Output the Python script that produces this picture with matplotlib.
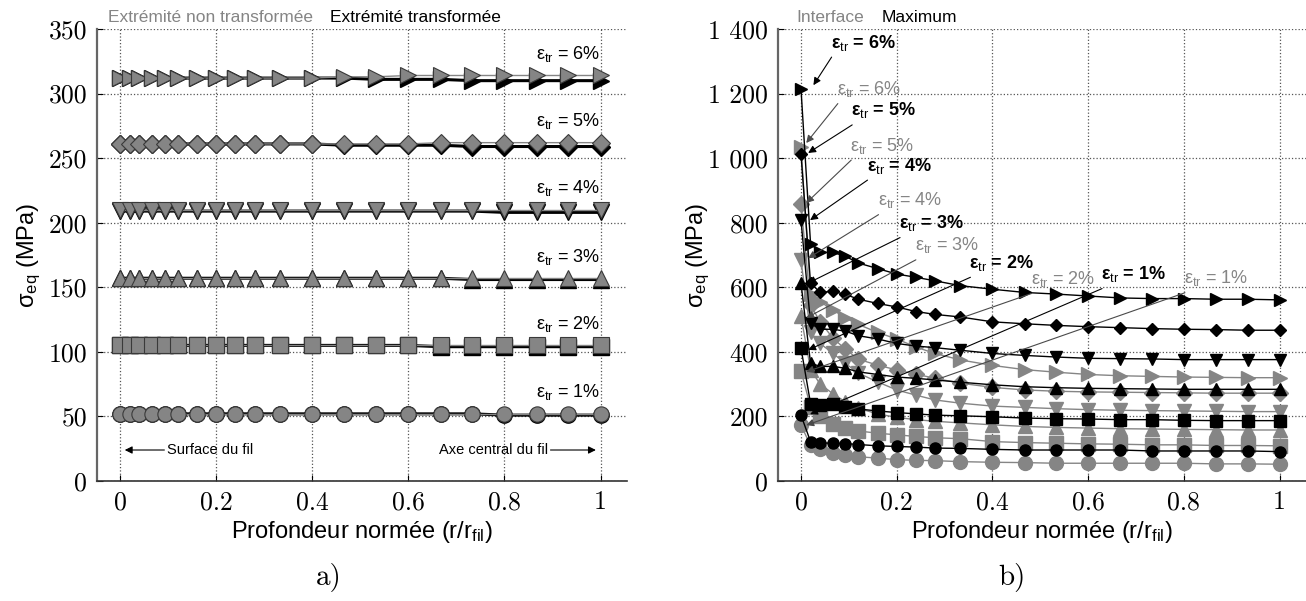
import numpy as np
import matplotlib.pyplot as plt

plt.rcParams['font.family'] = ['Liberation Sans', 'DejaVu Sans']
plt.rcParams['mathtext.fontset'] = 'custom'
plt.rcParams['mathtext.rm'] = 'Liberation Sans'
plt.rcParams['mathtext.it'] = 'Liberation Sans:italic'
plt.rcParams['mathtext.bf'] = 'Liberation Sans:bold'

# profondeur normée (r/r_fil)
depth = [0, 0.02, 0.04, 0.067, 0.093, 0.12, 0.16, 0.2, 0.24, 0.28, 0.333,
         0.4, 0.467, 0.533, 0.6, 0.667, 0.733, 0.8, 0.867, 0.933, 1.0]
levels = ['1%', '2%', '3%', '4%', '5%', '6%']
markers = ['o', 's', '^', 'v', 'D', '>']

# a) extrémité non transformée (gris) / transformée (noir)
a_gris_1 = [52, 52, 52, 52, 52, 52, 52, 52, 52, 52, 52, 52, 52, 52, 52, 52, 52, 52, 52, 52, 52]
a_gris_2 = [105, 105, 105, 105, 105, 105, 105, 105, 105, 105, 105, 105, 105, 105, 105, 105, 105, 105, 105, 105, 105]
a_gris_3 = [157, 157, 157, 157, 157, 157, 157, 157, 157, 157, 157, 157, 157, 157, 157, 157, 157, 157, 157, 157, 157]
a_gris_4 = [210, 210, 210, 210, 210, 210, 210, 210, 210, 210, 210, 210, 210, 210, 210, 210, 210, 210, 210, 210, 210]
a_gris_5 = [261, 261, 261, 261, 261, 261, 261, 261, 261, 261, 261, 261, 261, 261, 261, 262, 262, 262, 262, 262, 262]
a_gris_6 = [312, 312, 312, 312, 312, 312, 312, 312, 312, 312, 312, 312, 313, 313, 314, 314, 314, 314, 314, 314, 314]
a_noir_1 = [52, 52, 52, 52, 52, 52, 52, 52, 52, 52, 52, 52, 52, 52, 52, 52, 52, 51, 51, 51, 51]
a_noir_2 = [105, 105, 105, 105, 105, 105, 105, 105, 105, 105, 105, 105, 105, 105, 105, 104, 104, 104, 104, 104, 104]
a_noir_3 = [157, 157, 157, 157, 157, 157, 157, 157, 157, 157, 157, 157, 157, 157, 157, 157, 156, 156, 156, 156, 156]
a_noir_4 = [209, 209, 209, 209, 209, 209, 209, 209, 209, 209, 209, 209, 209, 209, 209, 209, 209, 208, 208, 208, 208]
a_noir_5 = [261, 261, 261, 261, 261, 261, 261, 261, 261, 261, 261, 261, 260, 260, 260, 260, 259, 259, 259, 259, 259]
a_noir_6 = [312, 312, 312, 312, 312, 312, 312, 312, 312, 312, 312, 312, 312, 311, 311, 311, 310, 310, 310, 310, 310]

# b) interface (gris) / maximum (noir)
b_gris_1 = [173, 110, 100, 86, 80, 75, 71, 66, 64, 63, 60, 58, 57, 55, 55, 55, 55, 55, 53, 53, 52]
b_gris_2 = [341, 230, 200, 176, 164, 155, 148, 143, 138, 134, 131, 122, 119, 117, 115, 114, 112, 112, 110, 110, 109]
b_gris_3 = [511, 345, 300, 270, 245, 225, 208, 197, 190, 185, 180, 174, 169, 166, 164, 162, 161, 160, 159, 158, 158]
b_gris_4 = [683, 460, 426, 395, 364, 334, 307, 282, 266, 251, 241, 232, 228, 224, 221, 219, 218, 217, 216, 215, 215]
b_gris_5 = [857, 545, 493, 442, 408, 377, 359, 344, 331, 318, 303, 290, 282, 278, 276, 275, 274, 273, 272, 272, 272]
b_gris_6 = [1034, 580, 555, 530, 505, 485, 460, 440, 415, 395, 375, 358, 345, 337, 330, 326, 324, 322, 321, 320, 320]
b_noir_1 = [204, 122, 118, 117, 116, 113, 109, 107, 105, 102, 101, 98, 96, 96, 96, 96, 93, 93, 93, 93, 91]
b_noir_2 = [412, 240, 234, 237, 229, 223, 217, 212, 208, 204, 202, 199, 195, 193, 192, 190, 190, 188, 187, 187, 187]
b_noir_3 = [613, 365, 355, 355, 349, 338, 330, 322, 318, 313, 306, 298, 292, 289, 287, 286, 285, 284, 284, 284, 284]
b_noir_4 = [808, 488, 470, 470, 464, 450, 440, 426, 418, 413, 405, 395, 389, 384, 380, 379, 378, 376, 376, 376, 376]
b_noir_5 = [1013, 612, 585, 587, 578, 563, 550, 539, 525, 516, 508, 493, 487, 482, 478, 475, 472, 470, 469, 467, 467]
b_noir_6 = [1215, 735, 708, 708, 696, 675, 658, 641, 631, 620, 605, 594, 584, 579, 573, 567, 565, 565, 563, 563, 561]

a_gris = [a_gris_1, a_gris_2, a_gris_3, a_gris_4, a_gris_5, a_gris_6]
a_noir = [a_noir_1, a_noir_2, a_noir_3, a_noir_4, a_noir_5, a_noir_6]
b_gris = [b_gris_1, b_gris_2, b_gris_3, b_gris_4, b_gris_5, b_gris_6]
b_noir = [b_noir_1, b_noir_2, b_noir_3, b_noir_4, b_noir_5, b_noir_6]

# étiquettes b) : position du texte, pointe de la flèche
b_lab_noir = [((0.627, 641), (0.019, 207)),
              ((0.352, 676), (0.015, 406)),
              ((0.205, 799), (0.015, 613)),
              ((0.137, 977), (0.019, 808)),
              ((0.105, 1148), (0.015, 1016)),
              ((0.062, 1358), (0.026, 1226))]
b_lab_gris = [((0.800, 628), (0.011, 173)),
              ((0.480, 626), (0.011, 338)),
              ((0.238, 730), (0.011, 505)),
              ((0.160, 870), (0.015, 690)),
              ((0.103, 1039), (0.011, 861)),
              ((0.075, 1214), (0.011, 1047))]

xticks = [0, 0.2, 0.4, 0.6, 0.8, 1]
xticklabels = ['0', '0.2', '0.4', '0.6', '0.8', '1']
a_yticks = [0, 50, 100, 150, 200, 250, 300, 350]
a_yticklabels = ['0', '50', '100', '150', '200', '250', '300', '350']
b_yticks = [0, 200, 400, 600, 800, 1000, 1200, 1400]
b_yticklabels = ['0', '200', '400', '600', '800', '1 000', '1 200', '1 400']

GRIS = '#858585'
W, H = 1306, 601
fig = plt.figure(figsize=(W / 100, H / 100), dpi=100)
ax1 = fig.add_axes([97 / W, 1 - 481 / H, 530 / W, 452 / H])
ax2 = fig.add_axes([778 / W, 1 - 481 / H, 528 / W, 452 / H])


def etiquette(niveau):
    return 'ε$_{\\mathrm{tr}}$ = ' + niveau


def habillage(ax, yticks, yticklabels, ymax, ypad):
    ax.set_xlim(-0.048, 1.055)
    ax.set_ylim(0, ymax)
    ax.set_xticks(xticks, xticklabels, fontfamily='cmr10', fontsize=18.5)
    ax.set_yticks(yticks, yticklabels, fontfamily='cmr10', fontsize=18.5)
    ax.tick_params(direction='in', length=4, width=0.8, pad=7)
    ax.grid(True, linestyle=':', color='#555555', linewidth=0.9)
    for s in ['top', 'right']:
        ax.spines[s].set_visible(False)
    ax.spines['left'].set_color('#666666')
    ax.spines['left'].set_linewidth(1.6)
    ax.spines['bottom'].set_color('#333333')
    ax.spines['bottom'].set_linewidth(1.2)
    ax.set_xlabel('Profondeur normée (r/r$_{\\mathrm{fil}}$)', fontsize=17, labelpad=3)
    ax.set_ylabel('σ$_{\\mathrm{eq}}$ (MPa)', fontsize=17, labelpad=ypad)


# ---- a)
for i in range(6):
    ax1.plot(depth, a_noir[i], color='k', lw=2.2, marker=markers[i],
             ms=11 if markers[i] != 'D' else 9, mfc='k', mec='k', zorder=3, clip_on=False)
    ax1.plot(depth, a_gris[i], color=GRIS, lw=1.0, marker=markers[i],
             ms=11 if markers[i] != 'D' else 9, mfc=GRIS, mec='#3a3a3a', mew=0.8,
             zorder=4, clip_on=False)
    ax1.text(1.0, a_gris[i][-1] + 9, etiquette(levels[i]),
             ha='right', va='bottom', fontsize=13, color='k')

ax1.annotate('', xy=(0.004, 24), xytext=(0.098, 24),
             arrowprops=dict(arrowstyle='-|>', color='k', lw=0.8, mutation_scale=11))
ax1.text(0.098, 24, 'Surface du fil', ha='left', va='center', fontsize=10.5)
ax1.annotate('', xy=(0.996, 24), xytext=(0.89, 24),
             arrowprops=dict(arrowstyle='-|>', color='k', lw=0.8, mutation_scale=11))
ax1.text(0.89, 24, 'Axe central du fil', ha='right', va='center', fontsize=10.5)
habillage(ax1, a_yticks, a_yticklabels, 350, 4)
fig.text(108 / W, 1 - 18 / H, 'Extrémité non transformée', color=GRIS, fontsize=12.5,
         ha='left', va='center')
fig.text(330 / W, 1 - 18 / H, 'Extrémité transformée', color='k', fontsize=12.5,
         ha='left', va='center')

# ---- b)
for i in range(6):
    ax2.plot(depth, b_gris[i], color=GRIS, lw=1.0, marker=markers[i],
             ms=10 if markers[i] != 'D' else 8, mfc=GRIS, mec=GRIS, zorder=3, clip_on=False)
for i in range(6):
    ax2.plot(depth, b_noir[i], color='k', lw=1.0, marker=markers[i],
             ms=8 if markers[i] != 'D' else 6.5, mfc='k', mec='k', zorder=4, clip_on=False)

for lab, couleur, gras, fleche in [(b_lab_gris, GRIS, 'normal', '#4a4a4a'),
                                   (b_lab_noir, 'k', 'bold', 'k')]:
    for i in range(6):
        (tx, ty), tip = lab[i]
        ax2.annotate('', xy=tip, xytext=(tx + 0.002, ty - 45), zorder=5,
                     arrowprops=dict(arrowstyle='-|>', color=fleche, lw=0.8,
                                     mutation_scale=11, shrinkA=0, shrinkB=0))
        ax2.text(tx, ty, etiquette(levels[i]), ha='left', va='center',
                 fontsize=13, color=couleur, fontweight=gras, zorder=6)

habillage(ax2, b_yticks, b_yticklabels, 1400, -3)
fig.text(796 / W, 1 - 18 / H, 'Interface', color=GRIS, fontsize=12.5, ha='left', va='center')
fig.text(882 / W, 1 - 18 / H, 'Maximum', color='k', fontsize=12.5, ha='left', va='center')

fig.text(329 / W, 1 - 578 / H, 'a)', fontfamily='cmr10', fontsize=21, ha='center', va='center')
fig.text(1012 / W, 1 - 578 / H, 'b)', fontfamily='cmr10', fontsize=21, ha='center', va='center')

fig.savefig('out.png', dpi=100)
